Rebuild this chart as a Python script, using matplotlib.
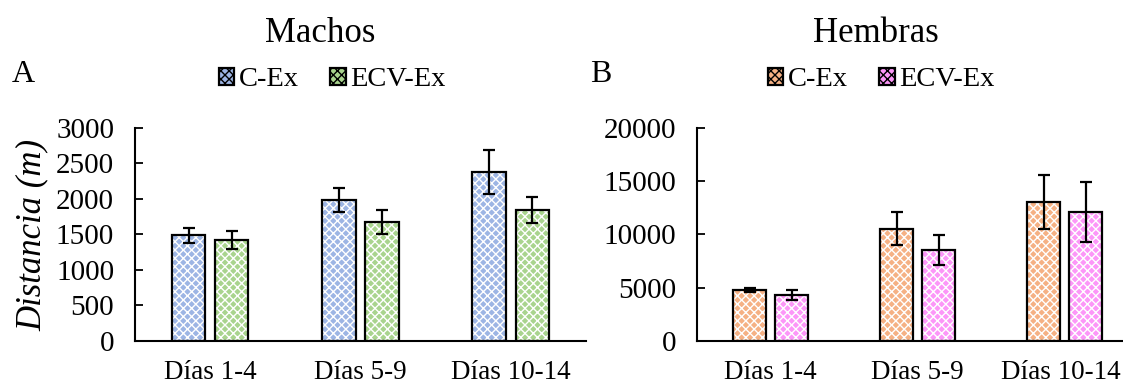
import numpy as np
import matplotlib.pyplot as plt
import matplotlib.transforms as mtrans

plt.rcParams['font.family'] = ['Liberation Serif', 'DejaVu Serif']
plt.rcParams['hatch.linewidth'] = 1.0

dias = ["Días 1-4", "Días 5-9", "Días 10-14"]

# Machos
machos_cex = [1490, 1985, 2380]
machos_cex_err = [105, 175, 310]
machos_ecv = [1425, 1680, 1850]
machos_ecv_err = [125, 170, 185]

# Hembras
hembras_cex = [4790, 10550, 13070]
hembras_cex_err = [150, 1530, 2520]
hembras_ecv = [4350, 8530, 12130]
hembras_ecv_err = [470, 1420, 2830]

fig = plt.figure(figsize=(11.23, 3.84), dpi=100)
ax1 = fig.add_axes([0.1202, 0.112, 0.4016, 0.5547])
ax2 = fig.add_axes([0.6207, 0.112, 0.3927, 0.5547])


def draw(ax, a, a_err, b, b_err, c1, c2, ymax, step, width, off):
    x = np.arange(len(dias))
    handles = []
    for vals, errs, col, sh in [(a, a_err, c1, -off), (b, b_err, c2, off)]:
        ax.bar(x + sh, vals, width, color=col, edgecolor='white', hatch='xxxx', linewidth=0)
        ax.bar(x + sh, vals, width, fill=False, edgecolor='black', linewidth=1.6)
        ax.errorbar(x + sh, vals, yerr=errs, fmt='none', ecolor='black',
                    elinewidth=1.6, capsize=4.5, capthick=1.6)
        h = plt.Rectangle((0, 0), 1, 1, facecolor=col, edgecolor='black',
                          hatch='xxxx', linewidth=1.6)
        handles.append(h)
    ax.set_xlim(-0.5, len(dias) - 0.5)
    ax.set_ylim(0, ymax)
    ax.set_yticks(np.arange(0, ymax + 1, step))
    ax.set_xticks(x)
    ax.set_xticklabels(dias)
    ax.spines['top'].set_visible(False)
    ax.spines['right'].set_visible(False)
    ax.spines['left'].set_linewidth(1.5)
    ax.spines['bottom'].set_linewidth(1.5)
    ax.tick_params(axis='y', direction='in', length=6, width=1.3, labelsize=21, pad=15)
    ax.tick_params(axis='x', length=0, labelsize=19.5, pad=14)
    return handles


h1 = draw(ax1, machos_cex, machos_cex_err, machos_ecv, machos_ecv_err,
          '#9db5e4', '#a9d48e', 3000, 500, 0.222, 0.144)
h2 = draw(ax2, hembras_cex, hembras_cex_err, hembras_ecv, hembras_ecv_err,
          '#f5b184', '#fc96f8', 20000, 5000, 0.225, 0.143)
# last label touches the right edge, nudge it left a few pixels
lab = ax2.get_xticklabels()[-1]
lab.set_transform(lab.get_transform() + mtrans.ScaledTranslation(-0.04, 0, fig.dpi_scale_trans))

ax1.set_ylabel("Distancia (m)", fontsize=25, style='italic', labelpad=5)

fig.text(320 / 1123, 1 - 33 / 384, "Machos", fontsize=25, ha='center', va='center')
fig.text(876 / 1123, 1 - 33 / 384, "Hembras", fontsize=25, ha='center', va='center')
fig.text(12 / 1123, 1 - 75 / 384, "A", fontsize=23, ha='left', va='center')
fig.text(590 / 1123, 1 - 75 / 384, "B", fontsize=23, ha='left', va='center')

leg_kw = dict(ncol=2, frameon=False, fontsize=20.5, handlelength=0.55, handleheight=0.55,
              handletextpad=0.15, columnspacing=1.1, loc='center')
fig.legend(h1, ["C-Ex", "ECV-Ex"], bbox_to_anchor=(332 / 1123, 1 - 80 / 384), **leg_kw)
fig.legend(h2, ["C-Ex", "ECV-Ex"], bbox_to_anchor=(881 / 1123, 1 - 80 / 384), **leg_kw)

fig.savefig("out.png", dpi=100)
